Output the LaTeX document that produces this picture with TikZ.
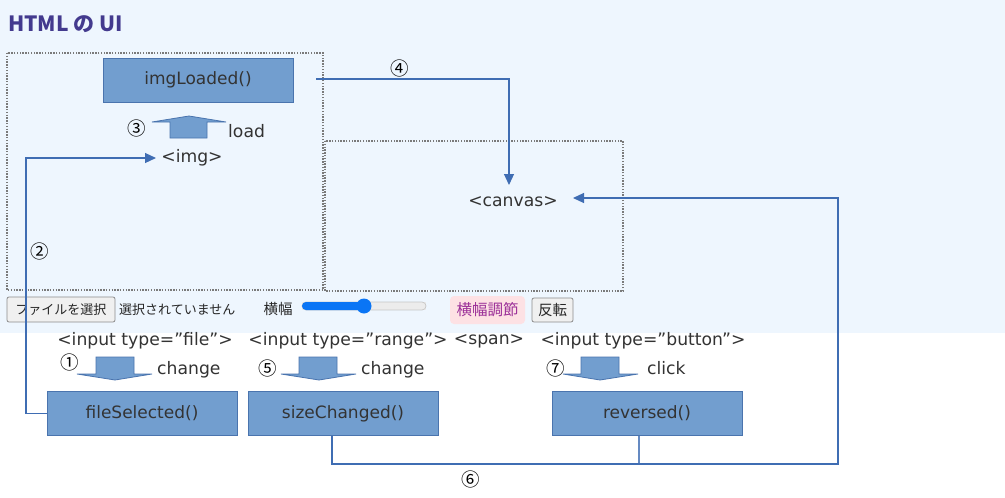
\documentclass[tikz,border=0pt]{standalone}
\usepackage{fontspec}
\setmainfont{DejaVu Sans}
\newfontfamily\jp{Noto Sans CJK JP}
\usetikzlibrary{arrows.meta,calc}
\definecolor{bgblue}{HTML}{EEF6FE}
\definecolor{boxfill}{HTML}{729ECF}
\definecolor{boxline}{HTML}{4A74AE}
\definecolor{conncol}{HTML}{3F6DB3}
\definecolor{txtcol}{HTML}{333333}
\definecolor{titlecol}{HTML}{433A8E}
\definecolor{dotcol}{HTML}{7A7A7A}
\definecolor{pinkbg}{HTML}{FDE1E4}
\definecolor{pinktxt}{HTML}{9B2F98}
\definecolor{slideblue}{HTML}{0A75F5}
\tikzset{
  fnbox/.style={draw=boxline, fill=boxfill, line width=0.9pt, minimum width=190pt, minimum height=44pt, inner sep=0pt, text=txtcol, font=\fontsize{17}{20}\selectfont},
  dotbox/.style={draw=dotcol, line width=2.2pt, dash pattern=on 1.4pt off 1.4pt},
  conn/.style={draw=conncol, line width=1.2pt, -{Triangle[length=11pt,width=10pt]}},
  connplain/.style={draw=conncol!80, line width=1.2pt},
  lbl/.style={text=txtcol, inner sep=0pt, font=\fontsize{17.2}{20}\selectfont},
  num/.style={text=black, inner sep=0pt, font=\jp\fontsize{18.5}{20}\selectfont},
  blockarrow/.style={draw=boxline, fill=boxfill, line width=0.8pt, line join=miter},
  uibtn/.style={draw=gray!90, fill=gray!12, rounded corners=2pt, line width=0.8pt},
  uitxt/.style={text=black!85, inner sep=0pt, font=\jp\fontsize{13}{15}\selectfont},
}
\begin{document}
\begin{tikzpicture}[x=1pt,y=-1pt]
\useasboundingbox (0,0) rectangle (1005,498);
\fill[white] (0,0) rectangle (1005,498);
\fill[bgblue] (0,0) rectangle (1005,333);

% title
\node[anchor=west, inner sep=0pt, text=titlecol, font=\jp\fontsize{21}{24}\selectfont\bfseries] (title) at (8,24) {HTML の UI};

% containers
\draw[dotbox] (7,53) rectangle (323,290);
\draw[dotbox] (325,141) rectangle (623,291);

% imgLoaded
\node[fnbox] (imgLoaded) at (198,80) {imgLoaded()};
\draw[blockarrow] (170,138) -- (170,122) -- (152,122) -- (189,116) -- (226,122) -- (207,122) -- (207,138) -- cycle;
\node[num] (n3) at (137,128) {③};
\node[lbl, anchor=base west] (load) at (228,137) {load};
\node[lbl] (img) at (192,158) {<img>};

% canvas
\node[lbl] (canvas) at (513,202) {<canvas>};
\coordinate (c4start) at ($(imgLoaded.east)+(23,-1)$);
\coordinate (c4end) at (509,185);
\draw[conn] (c4start) -| (c4end);
\node[num] (n4) at (400,68) {④};

% UI bar
\draw[uibtn] (7,297) rectangle (115,322);
\node[uitxt] (filebtn) at (61,310) {ファイルを選択};
\node[uitxt, anchor=west] (nosel) at (119,310) {選択されていません};
\node[uitxt, font=\jp\fontsize{14.5}{16}\selectfont] (yoko) at (278,309) {横幅};
\fill[gray!15] (302,302) rectangle (426,310);
\draw[gray!45, line width=0.7pt, rounded corners=4pt] (302,302) rectangle (426,310);
\fill[slideblue, rounded corners=4pt] (302,302) rectangle (366,310);
\fill[slideblue] (364,306) circle (7.5pt);
\fill[pinkbg, rounded corners=4pt] (450,296) rectangle (525,324);
\node[uitxt, text=pinktxt, font=\jp\fontsize{15.5}{17}\selectfont] (yokochosetsu) at (487.5,310) {横幅調節};
\draw[uibtn] (532,298) rectangle (573,322);
\node[uitxt, font=\jp\fontsize{14.5}{16}\selectfont] (hanten) at (552.5,310) {反転};

% element labels
\node[lbl] (inFile) at (145,341) {<input type=”file”>};
\node[lbl] (inRange) at (348,341) {<input type=”range”>};
\node[lbl] (span) at (489,341) {<span>};
\node[lbl] (inButton) at (643,341) {<input type=”button”>};

% down block arrows
\draw[blockarrow] (96,357) -- (134,357) -- (134,374) -- (152,374) -- (115,380) -- (77,374) -- (96,374) -- cycle;
\draw[blockarrow] (299,357) -- (337,357) -- (337,374) -- (356,374) -- (319,380) -- (281,374) -- (299,374) -- cycle;
\draw[blockarrow] (581,357) -- (619,357) -- (619,374) -- (638,374) -- (600,380) -- (563,374) -- (581,374) -- cycle;
\node[num] (n1) at (70,362) {①};
\node[lbl, anchor=base west] (chg1) at (157,374) {change};
\node[num] (n5) at (268,368) {⑤};
\node[lbl, anchor=base west] (chg2) at (361,374) {change};
\node[num] (n7) at (556,368) {⑦};
\node[lbl, anchor=base west] (click) at (647,374) {click};

% function boxes
\node[fnbox] (fileSelected) at (142,413.5) {fileSelected()};
\node[fnbox] (sizeChanged) at (343,413.5) {sizeChanged()};
\node[fnbox] (reversed) at (647,413.5) {reversed()};

% connector 2
\coordinate (c2a) at (26,413.5);
\coordinate (c2end) at (156,158);
\draw[conn] (fileSelected.west) -- (c2a) |- (c2end);
\node[num] (n2) at (40,251) {②};

% connector 6
\coordinate (c6s) at ($(sizeChanged.south)+(-11,0)$);
\coordinate (c6r) at ($(reversed.south)+(-8,0)$);
\coordinate (c6corner) at (838,464);
\coordinate (c6end) at (573,198);
\draw[connplain] (c6r) -- (c6r |- c6corner);
\draw[conn] (c6s) |- (c6corner) |- (c6end);
\node[num] (n6) at (471,479) {⑥};
\end{tikzpicture}
\end{document}
